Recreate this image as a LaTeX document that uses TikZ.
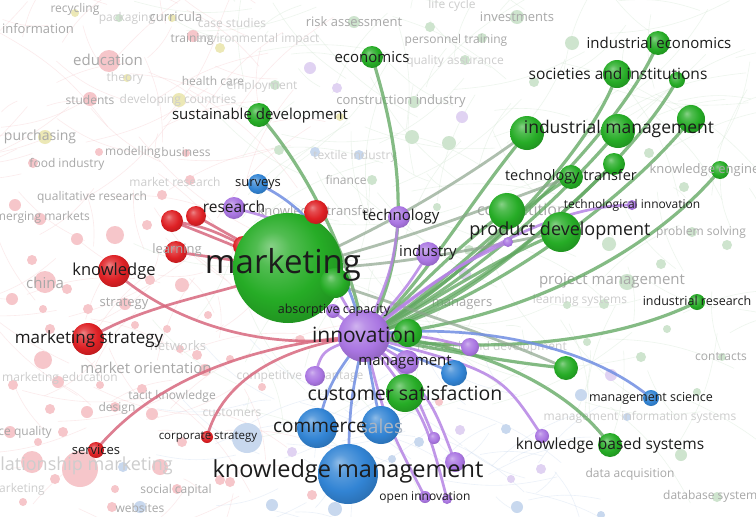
\documentclass[tikz,border=0pt]{standalone}
\usepackage{fontspec}
\setmainfont{Open Sans}
\newcommand\fsz[1]{\fontsize{#1}{#1}\selectfont}
\definecolor{vgreen}{RGB}{38,172,38}
\definecolor{vred}{RGB}{222,32,36}
\definecolor{vblue}{RGB}{50,132,212}
\definecolor{vpurple}{RGB}{170,118,226}
\definecolor{fpink}{RGB}{246,198,202}
\definecolor{fyellow}{RGB}{236,232,182}
\definecolor{fgreen}{RGB}{206,228,206}
\definecolor{fblue}{RGB}{200,216,238}
\definecolor{fpurple}{RGB}{224,210,242}
\definecolor{labc}{RGB}{28,28,28}
\definecolor{fadec}{RGB}{168,168,168}
\definecolor{vfadec}{RGB}{205,205,205}
\definecolor{gline}{RGB}{98,168,98}
\definecolor{grline}{RGB}{140,165,140}
\definecolor{pline}{RGB}{182,132,228}
\definecolor{bline}{RGB}{112,142,226}
\definecolor{rline}{RGB}{216,104,126}
\colorlet{vnodec}{vgreen}
\pgfdeclareradialshading[vnodec]{vball}{\pgfpoint{-8bp}{10bp}}{%
  color(0bp)=(vnodec!55!white); color(8bp)=(vnodec!80!white); color(20bp)=(vnodec);
  color(32bp)=(vnodec!82!black); color(50bp)=(vnodec!70!black)}
\tikzset{
  nd/.style={circle,inner sep=0pt,minimum size=#1,draw=none},
  vshade/.code={\colorlet{vnodec}{#1}\tikzset{shading=vball}},
  gn/.style={nd=#1,vshade=vgreen},
  rn/.style={nd=#1,vshade=vred},
  bn/.style={nd=#1,vshade=vblue},
  pn/.style={nd=#1,vshade=vpurple},
  lbl/.style={inner sep=0pt,text=labc,font=\fsz{#1}},
  flbl/.style={inner sep=0pt,text=fadec,font=\fsz{#1}},
  vflbl/.style={inner sep=0pt,text=vfadec,font=\fsz{#1}},
  gedge/.style={draw=gline,line width=3.2pt,opacity=.78,line cap=round},
  gredge/.style={draw=grline,line width=2.8pt,opacity=.7,line cap=round},
  pedge/.style={draw=pline,line width=2.7pt,opacity=.85,line cap=round},
  bedge/.style={draw=bline,line width=2.7pt,opacity=.85,line cap=round},
  redge/.style={draw=rline,line width=2.7pt,opacity=.85,line cap=round},
  bgl/.style={line width=.6pt,opacity=.35}
}
\begin{document}
\begin{tikzpicture}[x=1pt,y=-1pt]
\useasboundingbox (0,0) rectangle (756,517);
\clip (0,0) rectangle (756,517);
\fill[white] (0,0) rectangle (756,517);
% ---------- faint background lines
\pgfmathsetseed{11}
\foreach \i in {1,...,110}{
  \pgfmathsetmacro\xa{rnd*280}\pgfmathsetmacro\ya{rnd*517}
  \pgfmathsetmacro\xb{\xa+(rnd-0.5)*260}\pgfmathsetmacro\yb{\ya+(rnd-0.5)*200}
  \draw[bgl,draw=fpink] (\xa,\ya) to[bend left=12] (\xb,\yb);
}
\foreach \i in {1,...,150}{
  \pgfmathsetmacro\xa{230+rnd*526}\pgfmathsetmacro\ya{rnd*420}
  \pgfmathsetmacro\xb{\xa+(rnd-0.5)*300}\pgfmathsetmacro\yb{\ya+(rnd-0.5)*220}
  \draw[bgl,draw=fgreen] (\xa,\ya) to[bend left=12] (\xb,\yb);
}
\foreach \i in {1,...,50}{
  \pgfmathsetmacro\xa{200+rnd*360}\pgfmathsetmacro\ya{380+rnd*137}
  \pgfmathsetmacro\xb{\xa+(rnd-0.5)*240}\pgfmathsetmacro\yb{\ya+(rnd-0.5)*120}
  \draw[bgl,draw=fblue] (\xa,\ya) to[bend left=12] (\xb,\yb);
}
% ---------- faded nodes
\foreach \x/\y/\d [count=\n] in {109/61/22,193/36/12,90/99/14,99/152/8,33/163/10,186/153/8,
  15/205/12,40/219/12,77/239/12,115/235/18,147/225/10,162/195/10,190/180/10,32/260/10,45/282/22,
  67/289/10,12/299/12,43/309/8,88/309/10,125/304/12,182/285/14,150/280/10,208/315/8,135/325/8,
  167/329/8,50/329/10,43/360/18,13/385/10,58/382/12,100/385/8,50/409/10,87/412/12,115/407/10,
  152/414/12,197/355/10,205/370/12,180/349/8,230/359/8,142/389/10,10/432/12,63/432/10,38/442/8,
  32/462/22,80/469/36,55/479/10,23/502/8,115/489/8,160/467/16,177/489/10,112/507/10,230/482/10,
  182/442/10,220/480/10,262/387/8,312/495/10,439/402/8,300/340/10,447/345/8}
  \node[nd=\d pt,fill=fpink] (fp-\n) at (\x,\y) {};
\foreach \x/\y/\d [count=\n] in {45/137/14,179/100/14,127/78/8,220/48/10,172/18/8,75/13/8,340/117/8}
  \node[nd=\d pt,fill=fyellow] (fy-\n) at (\x,\y) {};
\foreach \x/\y/\d [count=\n] in {119/18/8,354/22/12,430/27/10,482/38/10,465/60/10,412/137/14,449/143/14,
  414/102/12,279/150/10,275/85/10,517/17/14,572/43/14,534/82/10,649/153/10,684/187/10,609/244/14,
  692/232/10,727/245/10,661/264/10,627/282/16,604/304/10,567/305/8,667/329/8,587/342/8,641/357/10,
  722/357/8,697/392/8,681/455/12,717/497/10,372/180/10,437/207/8,469/250/10}
  \node[nd=\d pt,fill=fgreen] (fg-\n) at (\x,\y) {};
\foreach \x/\y/\d [count=\n] in {359/155/10,315/152/10,581/395/12,627/417/8,517/507/12,601/515/8,506/429/10,
  140/507/12,123/467/10,247/438/30,272/505/12,419/442/10,392/459/8,335/509/14}
  \node[nd=\d pt,fill=fblue] (fb-\n) at (\x,\y) {};
\foreach \x/\y/\d [count=\n] in {310/68/12,337/88/10,462/117/12,611/375/12,541/469/10,511/479/8,292/452/10,
  460/430/10,465/274/12}
  \node[nd=\d pt,fill=fpurple] (fq-\n) at (\x,\y) {};
% ---------- faded labels
\node[flbl=12] (t1) at (75,9) {recycling};
\node[flbl=13] (t2) at (38,29) {information};
\node[vflbl=12] (t3) at (127,18) {packaging};
\node[flbl=13] (t4) at (176,17) {curricula};
\node[vflbl=12] (t5) at (232,23) {case studies};
\node[flbl=12] (t6) at (192,40) {training};
\node[vflbl=12] (t7) at (258,39) {environmental impact};
\node[flbl=15] (t8) at (108,60) {education};
\node[vflbl=12] (t9) at (125,78) {theory};
\node[flbl=12] (t10) at (213,81) {health care};
\node[vflbl=12] (t11) at (262,86) {employment};
\node[flbl=12] (t12) at (90,100) {students};
\node[vflbl=12] (t13) at (178,100) {developing countries};
\node[flbl=14] (t14) at (40,137) {purchasing};
\node[flbl=12] (t15) at (133,152) {modelling};
\node[flbl=12] (t16) at (186,152) {business};
\node[flbl=12] (t17) at (67,164) {food industry};
\node[vflbl=12] (t18) at (175,182) {market research};
\node[flbl=12] (t19) at (92,197) {qualitative research};
\node[flbl=12,anchor=west] (t20) at (-12,217) {emerging markets};
\node[flbl=15] (t21) at (45,283) {china};
\node[flbl=13] (t22) at (124,304) {strategy};
\node[vflbl=13] (t23) at (178,346) {networks};
\node[flbl=15] (t24) at (146,368) {market orientation};
\node[vflbl=12] (t25) at (60,378) {marketing education};
\node[flbl=12] (t26) at (172,396) {tacit knowledge};
\node[flbl=12] (t27) at (117,408) {design};
\node[vflbl=12] (t28) at (232,413) {customers};
\node[flbl=12,anchor=east] (t29) at (52,432) {service quality};
\node[vflbl=18,anchor=east] (t30) at (173,466) {relationship marketing};
\node[vflbl=12,anchor=east] (t31) at (45,489) {marketing};
\node[flbl=12] (t32) at (176,490) {social capital};
\node[flbl=12] (t33) at (140,508) {websites};
\node[vflbl=12] (t34) at (300,376) {competitive advantage};
\node[vflbl=12] (t35) at (300,235) {leadership};
\node[flbl=13] (t36) at (316,212) {knowledge transfer};
\node[flbl=12] (t37) at (346,180) {finance};
\node[vflbl=12] (t38) at (355,156) {textile industry};
\node[flbl=13] (t39) at (401,101) {construction industry};
\node[flbl=13] (t40) at (354,22) {risk assessment};
\node[vflbl=12] (t41) at (452,5) {life cycle};
\node[flbl=13] (t42) at (517,17) {investments};
\node[flbl=12] (t43) at (456,40) {personnel training};
\node[vflbl=12] (t44) at (455,61) {quality assurance};
\node[flbl=16] (t45) at (522,212) {competition};
\node[flbl=12] (t46) at (701,232) {problem solving};
\node[flbl=15] (t47) at (612,281) {project management};
\node[vflbl=12] (t48) at (580,300) {learning systems};
\node[flbl=13] (t49) at (462,305) {managers};
\node[vflbl=12] (t50) at (492,347) {research and development};
\node[flbl=12] (t51) at (721,357) {contracts};
\node[vflbl=12] (t52) at (640,417) {management information systems};
\node[flbl=12] (t53) at (630,474) {data acquisition};
\node[flbl=12,anchor=west] (t54) at (663,496) {database systems};
% ---------- positions of the main nodes
\foreach \nm/\x/\y in {mkt/288/268,inn/364/336,km/348/474,cs/405/393,com/317/428,sal/381/425,pd/561/232,
 cmp/507/211,im/527/133,imb/618/131,imc/691/119,soc/617/74,ie/658/43,gsm/677/80,eco/372/57,sd/259/115,
 tt/571/177,ttb/614/164,ke/720/170,tin/632/205,ir/697/302,gr/566/368,kbs/610/445,kbsp/542/436,ms/651/398,
 tech/399/217,ind/428/254,gm/335/283,gi/408/333,abs/333/311,mgt/407/362,bmg/454/373,pa/315/376,pb/470/347,
 pc/434/438,pd2/455/462,oi/425/497,pe/447/499,pf/508/242,res/234/208,sur/258/184,kn/114/271,mks/88/339,
 lrn/176/252,ra/172/221,rb/196/216,kt/316/212,srv/96/450,crp/207/437,rc/243/246}
  \coordinate (\nm) at (\x,\y);
% green
\draw[gedge] (eco) .. controls (398,140) and (418,250) .. (inn);
\draw[gedge] (sd) .. controls (300,160) and (350,250) .. (inn);
\draw[gedge] (ie) .. controls (622,130) and (480,270) .. (inn);
\draw[gedge] (soc) .. controls (592,150) and (470,280) .. (inn);
\draw[gedge] (gsm) .. controls (640,150) and (500,290) .. (inn);
\draw[gedge] (im) .. controls (470,200) and (420,290) .. (inn);
\draw[gedge] (imb) .. controls (560,200) and (460,290) .. (inn);
\draw[gedge] (imc) .. controls (640,185) and (500,300) .. (inn);
\draw[gedge] (tt) .. controls (500,220) and (430,300) .. (inn);
\draw[gedge] (ttb) .. controls (540,235) and (460,310) .. (inn);
\draw[gedge] (pd) .. controls (480,265) and (420,312) .. (inn);
\draw[gedge] (cmp) .. controls (450,250) and (410,300) .. (inn);
\draw[gedge] (ke) .. controls (640,265) and (500,325) .. (inn);
\draw[gedge] (ir) .. controls (600,350) and (460,352) .. (inn);
\draw[gedge] (gr) .. controls (500,362) and (420,345) .. (inn);
\draw[gedge] (kbs) .. controls (560,375) and (450,338) .. (inn);
\draw[gredge] (im) .. controls (450,190) and (360,240) .. (mkt);
\draw[gredge] (pd) .. controls (470,250) and (380,270) .. (mkt);
\draw[gredge] (tt) .. controls (480,210) and (380,250) .. (mkt);
\draw[gredge] (gr) .. controls (480,330) and (380,300) .. (mkt);
% purple
\draw[pedge] (tech) .. controls (392,270) .. (inn);
\draw[pedge] (ind) .. controls (405,290) .. (inn);
\draw[pedge] (tin) .. controls (540,205) and (430,280) .. (inn);
\draw[pedge] (pf) .. controls (450,270) .. (inn);
\draw[pedge] (mgt) -- (inn);
\draw[pedge] (pb) .. controls (420,335) .. (inn);
\draw[pedge] (pa) .. controls (322,350) .. (inn);
\draw[pedge] (pc) .. controls (410,380) .. (inn);
\draw[pedge] (pd2) .. controls (430,395) .. (inn);
\draw[pedge] (oi) .. controls (385,420) .. (inn);
\draw[pedge] (pe) .. controls (425,415) .. (inn);
\draw[pedge] (kbsp) .. controls (500,372) .. (inn);
\draw[pedge] (abs) -- (inn);
\draw[pedge] (res) .. controls (300,225) .. (inn);
% blue
\draw[bedge] (sur) .. controls (320,212) and (345,268) .. (inn);
\draw[bedge] (ms) .. controls (580,338) and (450,322) .. (inn);
\draw[bedge] (com) .. controls (330,382) .. (inn);
\draw[bedge] (sal) .. controls (372,382) .. (inn);
\draw[bedge] (km) .. controls (350,402) .. (inn);
\draw[bedge] (bmg) -- (inn);
% red
\draw[redge] (kn) .. controls (180,330) and (280,352) .. (inn);
\draw[redge] (mks) .. controls (150,300) and (240,292) .. (mkt);
\draw[redge] (ra) .. controls (210,228) .. (mkt);
\draw[redge] (ra) .. controls (215,238) .. (mkt);
\draw[redge] (rb) -- (mkt);
\draw[redge] (lrn) -- (mkt);
\draw[redge] (srv) .. controls (160,372) and (270,342) .. (inn);
\draw[redge] (crp) .. controls (222,380) and (282,346) .. (inn);
\draw[redge] (kt) .. controls (305,250) .. (mkt);
% ---------- main nodes
\node[rn=20pt] (nrc) at (rc) {};
\node[gn=110pt] (nmkt) at (mkt) {};
\node[gn=30pt] (ngm) at (gm) {};
\node[pn=52pt] (ninn) at (inn) {};
\node[gn=28pt] (ngi) at (gi) {};
\node[bn=60pt] (nkm) at (km) {};
\node[gn=38pt] (ncs) at (cs) {};
\node[bn=40pt] (ncom) at (com) {};
\node[bn=38pt] (nsal) at (sal) {};
\node[gn=40pt] (npd) at (pd) {};
\node[gn=36pt] (ncmp) at (cmp) {};
\node[gn=34pt] (nim) at (im) {};
\node[gn=34pt] (nimb) at (imb) {};
\node[gn=28pt] (nimc) at (imc) {};
\node[gn=28pt] (nsoc) at (soc) {};
\node[gn=24pt] (nie) at (ie) {};
\node[gn=16pt] (ngsm) at (gsm) {};
\node[gn=22pt] (neco) at (eco) {};
\node[gn=24pt] (nsd) at (sd) {};
\node[gn=24pt] (ntt) at (tt) {};
\node[gn=22pt] (nttb) at (ttb) {};
\node[gn=18pt] (nke) at (ke) {};
\node[pn=10pt] (ntin) at (tin) {};
\node[gn=16pt] (nir) at (ir) {};
\node[gn=24pt] (ngr) at (gr) {};
\node[gn=24pt] (nkbs) at (kbs) {};
\node[pn=14pt] (nkbsp) at (kbsp) {};
\node[bn=16pt] (nms) at (ms) {};
\node[pn=22pt] (ntech) at (tech) {};
\node[pn=24pt] (nind) at (ind) {};
\node[pn=14pt] (nabs) at (abs) {};
\node[pn=24pt] (nmgt) at (mgt) {};
\node[bn=26pt] (nbmg) at (bmg) {};
\node[pn=20pt] (npa) at (pa) {};
\node[pn=18pt] (npb) at (pb) {};
\node[pn=12pt] (npc) at (pc) {};
\node[pn=20pt] (npd2) at (pd2) {};
\node[pn=12pt] (noi) at (oi) {};
\node[pn=10pt] (npe) at (pe) {};
\node[pn=10pt] (npf) at (pf) {};
\node[pn=22pt] (nres) at (res) {};
\node[bn=20pt] (nsur) at (sur) {};
\node[rn=32pt] (nkn) at (kn) {};
\node[rn=32pt] (nmks) at (mks) {};
\node[rn=22pt] (nlrn) at (lrn) {};
\node[rn=22pt] (nra) at (ra) {};
\node[rn=20pt] (nrb) at (rb) {};
\node[rn=24pt] (nkt) at (kt) {};
\node[rn=16pt] (nsrv) at (srv) {};
\node[rn=12pt] (ncrp) at (crp) {};
% ---------- main labels
\node[flbl=13] (Llrn) at (177,250) {learning};
\node[inner sep=0pt,text=fblue!60!gray,font=\fsz{19}] (Lsal) at (381,426) {sales};
\node[lbl=33] (Lmkt) at (283,265) {marketing};
\node[lbl=21] (Linn) at (364,335) {innovation};
\node[lbl=23.5] (Lkm) at (348,471) {knowledge management};
\node[lbl=19.5] (Lcs) at (405,393) {customer satisfaction};
\node[lbl=19] (Lcom) at (320,427) {commerce};
\node[lbl=18] (Lpd) at (560,231) {product development};
\node[lbl=17.5] (Lim) at (619,129) {industrial management};
\node[lbl=15.5] (Lsoc) at (618,74) {societies and institutions};
\node[lbl=15] (Lie) at (659,43) {industrial economics};
\node[lbl=15] (Leco) at (372,57) {economics};
\node[lbl=15] (Lsd) at (260,116) {sustainable development};
\node[lbl=14.5] (Ltt) at (571,177) {technology transfer};
\node[lbl=15] (Ltech) at (401,217) {technology};
\node[lbl=15] (Lind) at (428,253) {industry};
\node[lbl=15.5] (Lres) at (234,207) {research};
\node[lbl=13] (Lsur) at (258,185) {surveys};
\node[lbl=16.5] (Lkn) at (114,271) {knowledge};
\node[lbl=17] (Lmks) at (89,339) {marketing strategy};
\node[lbl=15] (Lmgt) at (405,362) {management};
\node[lbl=15.5] (Lkbs) at (610,445) {knowledge based systems};
\node[lbl=12.5] (Labs) at (334,310) {absorptive capacity};
\node[lbl=12] (Ltin) at (632,205) {technological innovation};
\node[lbl=12.5] (Lir) at (697,301) {industrial research};
\node[lbl=12.5] (Lms) at (651,398) {management science};
\node[lbl=12] (Loi) at (425,498) {open innovation};
\node[lbl=13] (Lsrv) at (96,450) {services};
\node[lbl=11.5] (Lcrp) at (208,437) {corporate strategy};
\node[flbl=13] (Lke) at (720,170) {knowledge engineering};
\end{tikzpicture}
\end{document}
